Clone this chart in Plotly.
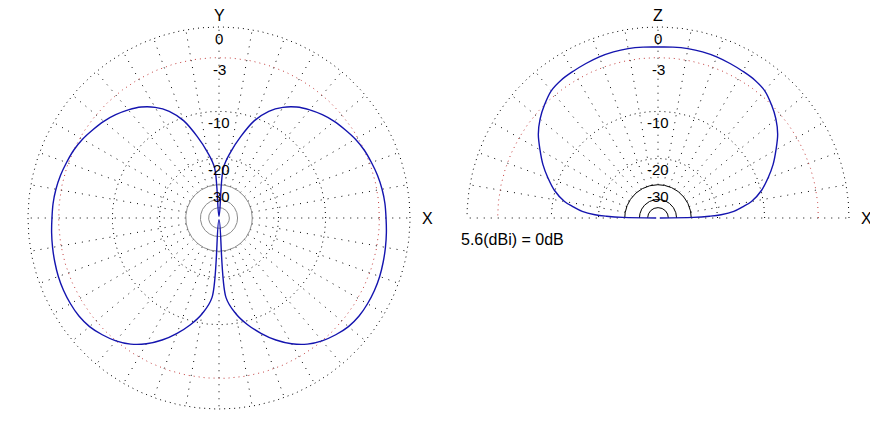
import numpy as np
import plotly.graph_objects as go

# ---------------- data ----------------
# Azimuth pattern (XY plane): angle from +X, counter-clockwise (deg), relative gain (dB)
az_deg = list(range(0, 360, 5))
az_db = [
    -2.3, -2.35, -2.45, -2.6, -2.8, -3.0, -3.3, -3.7, -4.1, -4.6, -5.2, -5.9,
    -6.9, -8.3, -10.5, -14.0, -18.0, -23.0,
    -80.0,
    -23.0, -18.0, -14.0, -10.5, -8.3, -6.9, -5.9, -5.2, -4.6, -4.1, -3.7, -3.3,
    -3.0, -2.8, -2.6, -2.45, -2.35,
    -2.3, -2.2, -2.1, -2.0, -1.9, -1.85, -1.85, -1.9, -2.1, -2.5, -3.0, -3.7,
    -4.7, -6.0, -7.6, -9.4, -11.6, -15.0,
    -80.0,
    -15.0, -11.6, -9.4, -7.6, -6.0, -4.7, -3.7, -3.0, -2.5, -2.1, -1.9, -1.85,
    -1.85, -1.9, -2.0, -2.1, -2.2,
]

# Elevation pattern (XZ plane): angle from +X horizon (deg), relative gain (dB)
el_deg = [0, 1, 2, 3, 5, 7.5, 10, 15, 20, 25, 30, 35, 40, 45, 50, 55, 60, 65, 70,
          75, 80, 85, 90, 95, 100, 105, 110, 115, 120, 125, 130, 135, 140, 145,
          150, 155, 160, 165, 170, 172.5, 175, 177, 178, 179, 180]
el_db = [-80.0, -29.0, -22.5, -19.0, -15.8, -13.8, -12.0, -9.9, -8.4, -7.0, -5.8,
         -4.6, -3.7, -3.0, -2.4, -2.15, -2.05, -1.95, -1.85, -1.8, -1.8, -1.85,
         -1.9,
         -1.85, -1.8, -1.8, -1.85, -1.95, -2.05, -2.15, -2.4, -3.0, -3.7, -4.6,
         -5.8, -7.0, -8.4, -9.9, -12.0, -13.8, -15.8, -19.0, -22.5, -29.0, -80.0]

ring_db = [0, -3, -10, -20, -30, -40, -50]
label_db = [0, -3, -10, -20, -30]
label_text = ["0", "-3", "-10", "-20", "-30"]
spoke_deg = list(range(0, 360, 10))
gain_note = "5.6(dBi) = 0dB"


def arrl(db):
    """ARRL log scale: 0.89 per 2 dB."""
    return 0.89 ** (-np.asarray(db, dtype=float) / 2.0)


FONT = "Liberation Sans, Arial, sans-serif"
BLUE = "rgb(20,20,175)"
RED = "rgb(195,60,60)"
DOT = "1px,4px"
SPOKE_DOT = "1px,6px"

fig = go.Figure()


def add_line(x, y, xa, color, dash="solid", width=1.0):
    fig.add_trace(go.Scatter(x=x, y=y, mode="lines", xaxis=xa, yaxis="y",
                             line=dict(color=color, width=width, dash=dash),
                             hoverinfo="skip", showlegend=False))


def circle(db, t0, t1):
    t = np.radians(np.linspace(t0, t1, 361))
    r = float(arrl(db))
    return r * np.cos(t), r * np.sin(t)


def draw_grid(xa, full, inner_color):
    t1 = 360 if full else 180
    r_in = float(arrl(-30))
    r_out = float(arrl(0))
    sx, sy = [], []
    for a in spoke_deg:
        if not full and a > 180:
            continue
        ar = np.radians(a)
        sx += [r_in * np.cos(ar), r_out * np.cos(ar), None]
        sy += [r_in * np.sin(ar), r_out * np.sin(ar), None]
    add_line(sx, sy, xa, "black", SPOKE_DOT, 1.0)
    for db in ring_db:
        x, y = circle(db, 0, t1)
        if db == -3:
            add_line(x, y, xa, RED, DOT, 1.0)
        elif db >= -20:
            add_line(x, y, xa, "black", DOT, 1.0)
        else:
            add_line(x, y, xa, inner_color, "solid", 1.0)


draw_grid("x", True, "rgb(140,140,140)")
draw_grid("x2", False, "black")

# azimuth pattern
ra = arrl(az_db)
ta = np.radians(az_deg)
xa_ = list(ra * np.cos(ta)) + [ra[0] * np.cos(ta[0])]
ya_ = list(ra * np.sin(ta)) + [ra[0] * np.sin(ta[0])]
fig.add_trace(go.Scatter(x=xa_, y=ya_, mode="lines", xaxis="x", yaxis="y",
                         line=dict(color=BLUE, width=1.4, shape="spline", smoothing=1.0),
                         hoverinfo="skip", showlegend=False))

# elevation pattern
re_ = arrl(el_db)
te = np.radians(el_deg)
fig.add_trace(go.Scatter(x=re_ * np.cos(te), y=re_ * np.sin(te), mode="lines",
                         xaxis="x2", yaxis="y",
                         line=dict(color=BLUE, width=1.4, shape="spline", smoothing=1.0),
                         hoverinfo="skip", showlegend=False))

# annotations
ann = []
for xr in ["x", "x2"]:
    for db, txt in zip(label_db, label_text):
        ann.append(dict(x=0, y=float(arrl(db)) - 0.06, xref=xr, yref="y", text=txt,
                        showarrow=False, font=dict(family=FONT, size=15, color="black"),
                        xanchor="center", yanchor="middle"))
    ann.append(dict(x=1.089, y=0, xref=xr, yref="y", text="X", showarrow=False,
                    font=dict(family=FONT, size=16, color="black"),
                    xanchor="center", yanchor="middle"))
ann.append(dict(x=0, y=1.058, xref="x", yref="y", text="Y", showarrow=False,
                font=dict(family=FONT, size=16, color="black"),
                xanchor="center", yanchor="middle"))
ann.append(dict(x=0, y=1.058, xref="x2", yref="y", text="Z", showarrow=False,
                font=dict(family=FONT, size=16, color="black"),
                xanchor="center", yanchor="middle"))
ann.append(dict(x=-1.04, y=-0.115, xref="x2", yref="y", text=gain_note, showarrow=False,
                font=dict(family=FONT, size=16, color="black"),
                xanchor="left", yanchor="middle"))

# page body has an 8px margin: figure is 870x414 and sits at (8,8)
W, H, R = 870, 414, 191.0
CX1, CX2, CY = 211.0, 650.0, 210.0
split = 430.0
ax_common = dict(visible=False, showgrid=False, zeroline=False, fixedrange=True)
fig.update_layout(
    width=W, height=H, autosize=False,
    margin=dict(l=0, r=0, t=0, b=0, pad=0),
    paper_bgcolor="white", plot_bgcolor="white",
    showlegend=False, hovermode=False,
    xaxis=dict(domain=[0, split / W], range=[-CX1 / R, (split - CX1) / R], anchor="y", **ax_common),
    xaxis2=dict(domain=[split / W, 1], range=[-(CX2 - split) / R, (W - CX2) / R], anchor="y", **ax_common),
    yaxis=dict(domain=[0, 1], range=[-(H - CY) / R, CY / R], **ax_common),
    annotations=ann,
)

fig.write_html("out.html")
